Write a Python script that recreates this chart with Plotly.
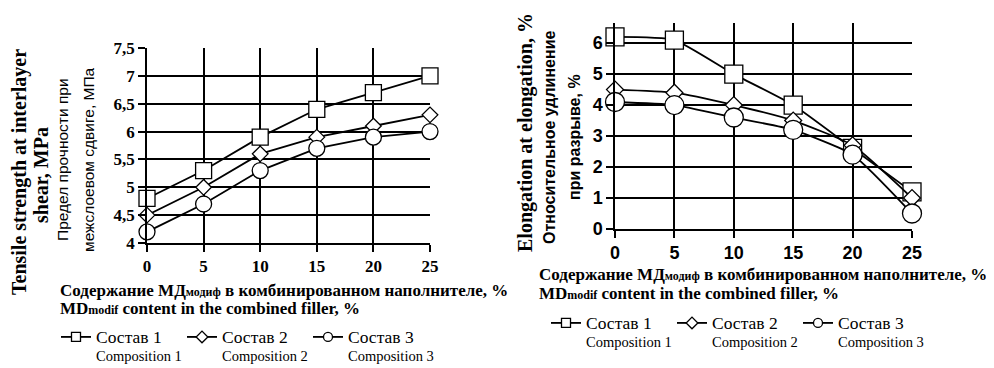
import plotly.graph_objects as go

# ---- data ----
x_content = [0, 5, 10, 15, 20, 25]

shear_comp1 = [4.8, 5.3, 5.9, 6.4, 6.7, 7.0]
shear_comp2 = [4.5, 5.0, 5.6, 5.9, 6.1, 6.3]
shear_comp3 = [4.2, 4.7, 5.3, 5.7, 5.9, 6.0]

elong_comp1 = [6.2, 6.1, 5.0, 4.0, 2.6, 1.2]
elong_comp2 = [4.5, 4.4, 4.0, 3.5, 2.7, 1.0]
elong_comp3 = [4.1, 4.0, 3.6, 3.2, 2.4, 0.5]

shear_ticks = [4, 4.5, 5, 5.5, 6, 6.5, 7, 7.5]
shear_ticktext = ["4", "4,5", "5", "5,5", "6", "6,5", "7", "7,5"]
elong_ticks = [0, 1, 2, 3, 4, 5, 6]

legend_ru = ["Состав 1", "Состав 2", "Состав 3"]
legend_en = ["Composition 1", "Composition 2", "Composition 3"]
symbols = ["square", "diamond", "circle"]

# page body has an 8px margin: the figure is drawn from (8, 8)
OFF = 8
W, H = 994 - OFF, 368 - OFF
SERIF = "Liberation Serif"
SANS = "Liberation Sans"

fig = go.Figure()

left_sizes = [16, 12, 16]
right_sizes = [18, 13, 19]

for ys, sym, sz in zip([shear_comp1, shear_comp2, shear_comp3], symbols, left_sizes):
    fig.add_trace(go.Scatter(
        x=x_content, y=ys, mode="lines+markers", xaxis="x", yaxis="y",
        line=dict(color="black", width=1.8),
        marker=dict(symbol=sym, size=sz, color="white", line=dict(color="black", width=1.3)),
        cliponaxis=False, showlegend=False))

for ys, sym, sz in zip([elong_comp1, elong_comp2, elong_comp3], symbols, right_sizes):
    fig.add_trace(go.Scatter(
        x=x_content, y=ys, mode="lines+markers", xaxis="x2", yaxis="y2",
        line=dict(color="black", width=1.8, shape="spline", smoothing=0.5),
        marker=dict(symbol=sym, size=sz, color="white", line=dict(color="black", width=1.3)),
        cliponaxis=False, showlegend=False))

# legend-only entries (small icons like the reference)
for lg in ["legend", "legend2"]:
    for ru, en, sym in zip(legend_ru, legend_en, symbols):
        name = "<span style='font-size:17.5px'>%s</span><br>%s" % (ru, en)
        fig.add_trace(go.Scatter(
            x=[None], y=[None], mode="lines+markers", name=name, legend=lg,
            xaxis="x", yaxis="y",
            line=dict(color="black", width=1.8),
            marker=dict(symbol=sym, size=9, color="white", line=dict(color="black", width=1.3))))

def px_x(p):
    return (p - OFF) / W

def px_y(p):
    return 1 - (p - OFF) / H

axis_common = dict(showgrid=True, gridcolor="black", gridwidth=1.5,
                   showline=True, linecolor="black", linewidth=1.5,
                   ticks="outside", ticklen=7, tickcolor="black", tickwidth=1.5,
                   zeroline=False)

fig.update_layout(
    width=W, height=H, margin=dict(l=0, r=0, t=0, b=0, autoexpand=False),
    paper_bgcolor="white", plot_bgcolor="white",
    xaxis=dict(domain=[px_x(147), px_x(430)], range=[0, 25], tickvals=x_content,
               tickfont=dict(family=SERIF, size=17, color="black", weight="bold"),
               anchor="y", **axis_common),
    yaxis=dict(domain=[px_y(243), px_y(48)], range=[4, 7.5], tickvals=shear_ticks,
               ticktext=shear_ticktext,
               tickfont=dict(family=SERIF, size=17, color="black", weight="bold"),
               anchor="x", **axis_common),
    xaxis2=dict(domain=[px_x(615), px_x(912)], range=[0, 25], tickvals=x_content,
                tickfont=dict(family=SANS, size=18, color="black", weight="bold"),
                anchor="y2", **axis_common),
    yaxis2=dict(domain=[px_y(229), px_y(23)], range=[0, 6.65], tickvals=elong_ticks,
                tickfont=dict(family=SANS, size=18, color="black", weight="bold"),
                anchor="x2", **axis_common),
    legend=dict(orientation="h", x=px_x(56), y=px_y(321), xanchor="left", yanchor="top",
                font=dict(family=SERIF, size=14.5, color="black"), valign="top",
                entrywidth=81, entrywidthmode="pixels", itemwidth=30,
                bgcolor="rgba(0,0,0,0)"),
    legend2=dict(orientation="h", x=px_x(546), y=px_y(307), xanchor="left", yanchor="top",
                 font=dict(family=SERIF, size=14.5, color="black"), valign="top",
                 entrywidth=81, entrywidthmode="pixels", itemwidth=30,
                 bgcolor="rgba(0,0,0,0)"),
)

ann = []
def add_text(text, x, y, size, family, angle=0, bold=False, xanchor="center"):
    ann.append(dict(text=text, x=px_x(x), y=px_y(y), xref="paper", yref="paper",
                    showarrow=False, textangle=angle, xanchor=xanchor, yanchor="middle",
                    font=dict(family=family, size=size, color="black",
                              weight="bold" if bold else "normal")))

# left y titles
add_text("Tensile strength at interlayer", 20, 172, 20, SERIF, -90, True)
add_text("shear, MPa", 41, 175, 20, SERIF, -90, True)
add_text("Предел прочности при", 62, 160, 15.5, SANS, -90, False)
add_text("межслоевом сдвиге, МПа", 88, 160, 15.5, SANS, -90, False)

# left x titles
sub = "<span style='font-size:12px'>%s</span>"
add_text("Содержание МД" + sub % "модиф" + " в комбинированном наполнителе, %", 58, 290, 17, SERIF, 0, True, "left")
add_text("MD" + sub % "modif" + " content in the combined filler, %", 58, 308, 17, SERIF, 0, True, "left")

# right y titles
add_text("Elongation at elongation, %", 525, 133, 20, SERIF, -90, True)
add_text("Относительное удлинение", 549, 138, 16, SANS, -90, True)
add_text("при разрыве, %", 574, 137, 16, SANS, -90, True)

# right x titles
add_text("Содержание МД" + sub % "модиф" + " в комбинированном наполнителе, %", 537, 274, 17, SERIF, 0, True, "left")
add_text("MD" + sub % "modif" + " content in the combined filler, %", 537, 293, 17, SERIF, 0, True, "left")

fig.update_layout(annotations=ann)

fig.write_html("out.html")
